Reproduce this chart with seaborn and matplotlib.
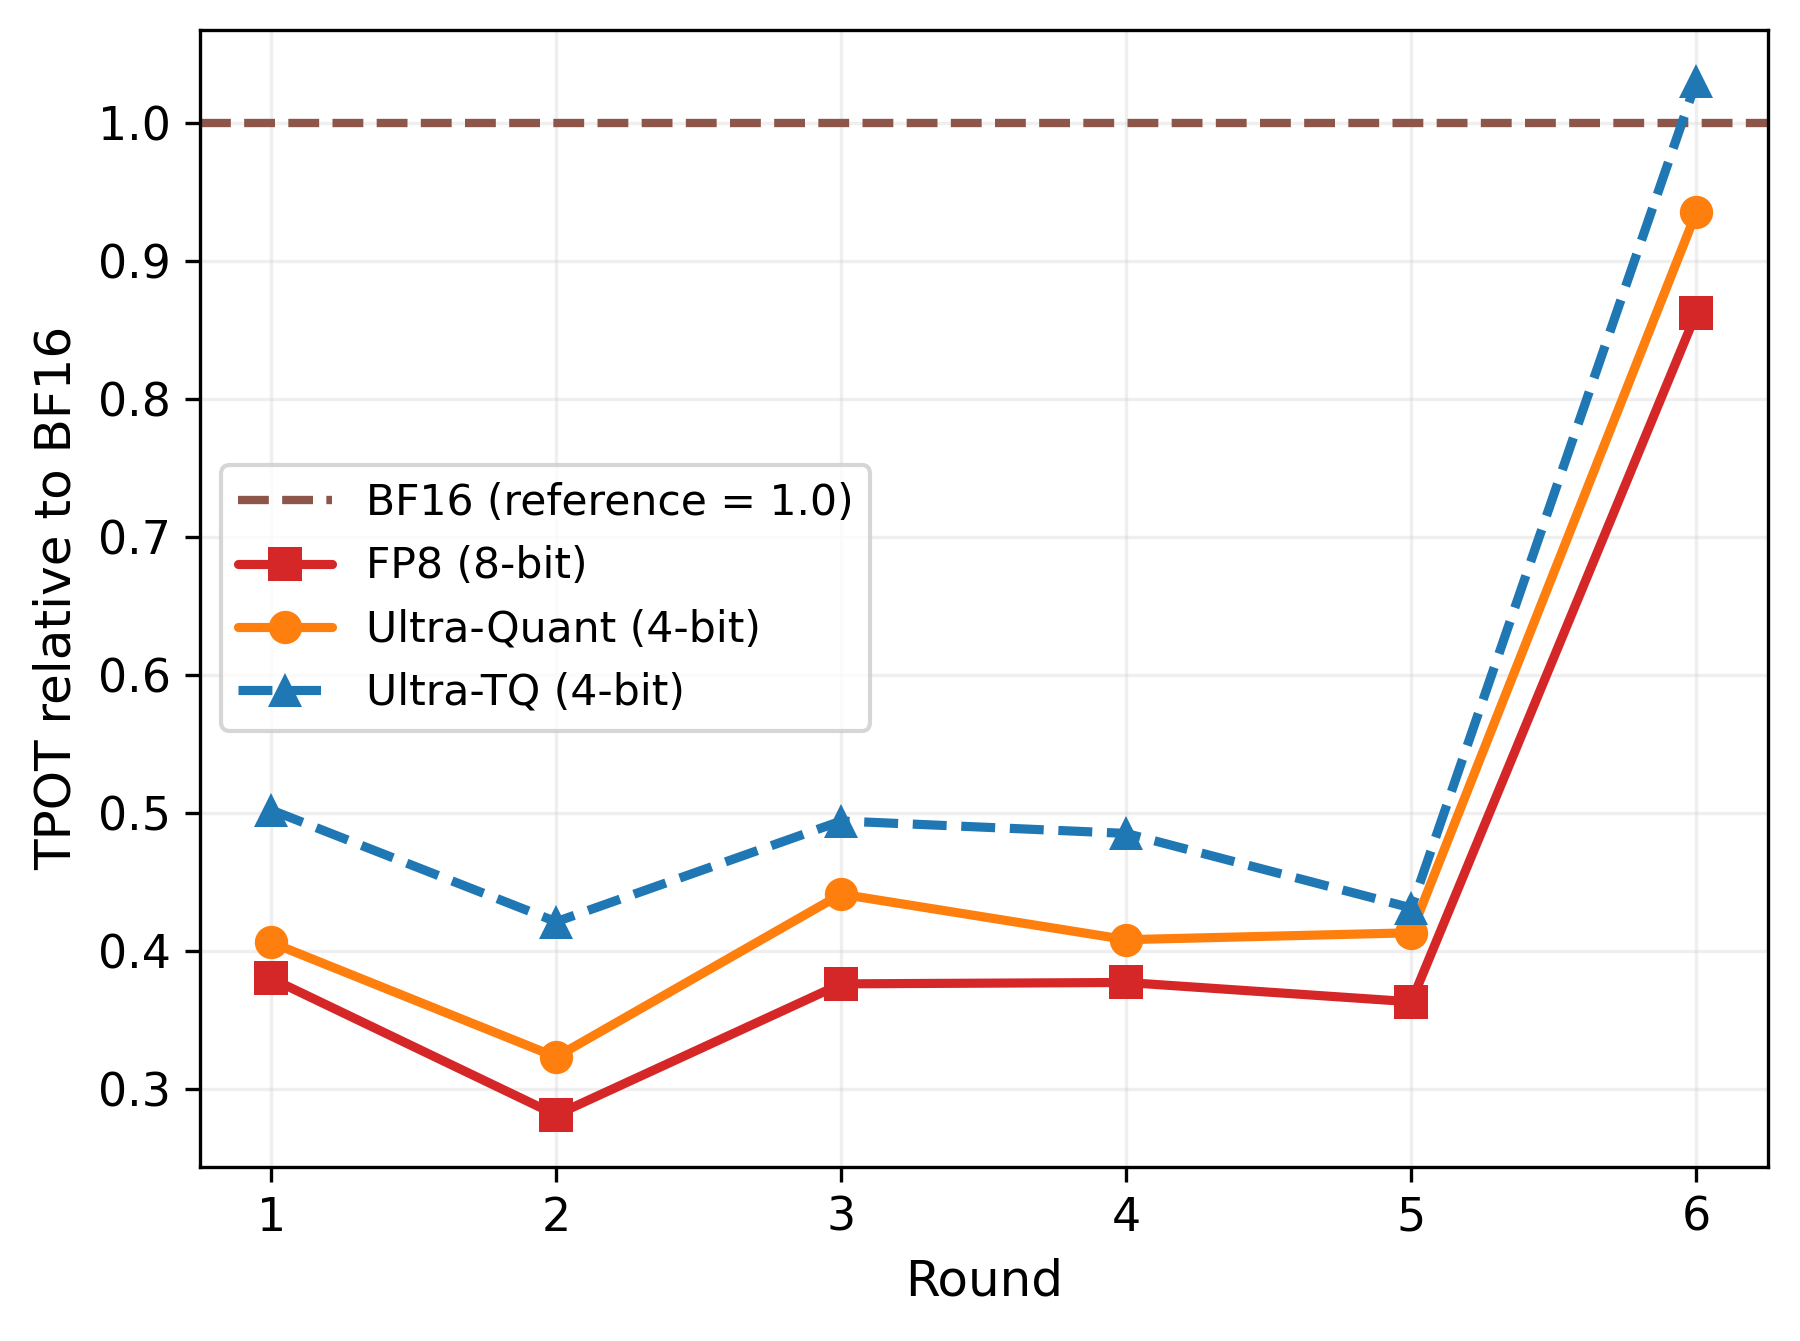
import pandas as pd
import matplotlib
matplotlib.use("Agg")
import matplotlib.pyplot as plt
import seaborn as sns

# ------------------------------
# Data (TPOT relative to BF16)
# ------------------------------
rounds = [1, 2, 3, 4, 5, 6]
fp8 = [0.380, 0.281, 0.376, 0.377, 0.363, 0.862]
ultra_quant = [0.406, 0.323, 0.441, 0.408, 0.413, 0.935]
ultra_tq = [0.502, 0.421, 0.494, 0.485, 0.431, 1.030]
bf16_ref = 1.0

df = pd.DataFrame({"Round": rounds, "FP8": fp8,
                   "Ultra-Quant": ultra_quant, "Ultra-TQ": ultra_tq})

# ------------------------------
# Plot
# ------------------------------
sns.set_style("ticks")
plt.rcParams['font.family'] = ['DejaVu Sans']
plt.rcParams['text.color'] = 'black'
plt.rcParams['axes.labelcolor'] = 'black'
plt.rcParams['xtick.color'] = 'black'
plt.rcParams['ytick.color'] = 'black'
plt.rcParams['axes.edgecolor'] = 'black'
fig, ax = plt.subplots(figsize=(6, 4.47), dpi=300)
fig.subplots_adjust(left=0.111, right=0.982, top=0.978, bottom=0.13)

ax.axhline(bf16_ref, color="tab:brown", linestyle="--", linewidth=2,
           label="BF16 (reference = 1.0)")
sns.lineplot(data=df, x="Round", y="FP8", ax=ax, color="tab:red", marker="s",
             markersize=8, linewidth=2.2, markeredgewidth=0,
             label="FP8 (8-bit)")
sns.lineplot(data=df, x="Round", y="Ultra-Quant", ax=ax, color="tab:orange",
             marker="o", markersize=8, linewidth=2.2, markeredgewidth=0,
             label="Ultra-Quant (4-bit)")
sns.lineplot(data=df, x="Round", y="Ultra-TQ", ax=ax, color="tab:blue",
             marker="^", markersize=8, linewidth=2.2, markeredgewidth=0,
             linestyle="--", label="Ultra-TQ (4-bit)")

ax.set_xticks(rounds)
ax.set_xlabel("Round", fontsize=12)
ax.set_ylabel("TPOT relative to BF16", fontsize=12)
ax.tick_params(labelsize=11)
ax.grid(True, alpha=0.3)
for s in ax.spines.values():
    s.set_visible(True)
    s.set_linewidth(0.8)
ax.legend(loc="center left", fontsize=10.2, handlelength=2.2)

fig.savefig("out.png", dpi=300)
